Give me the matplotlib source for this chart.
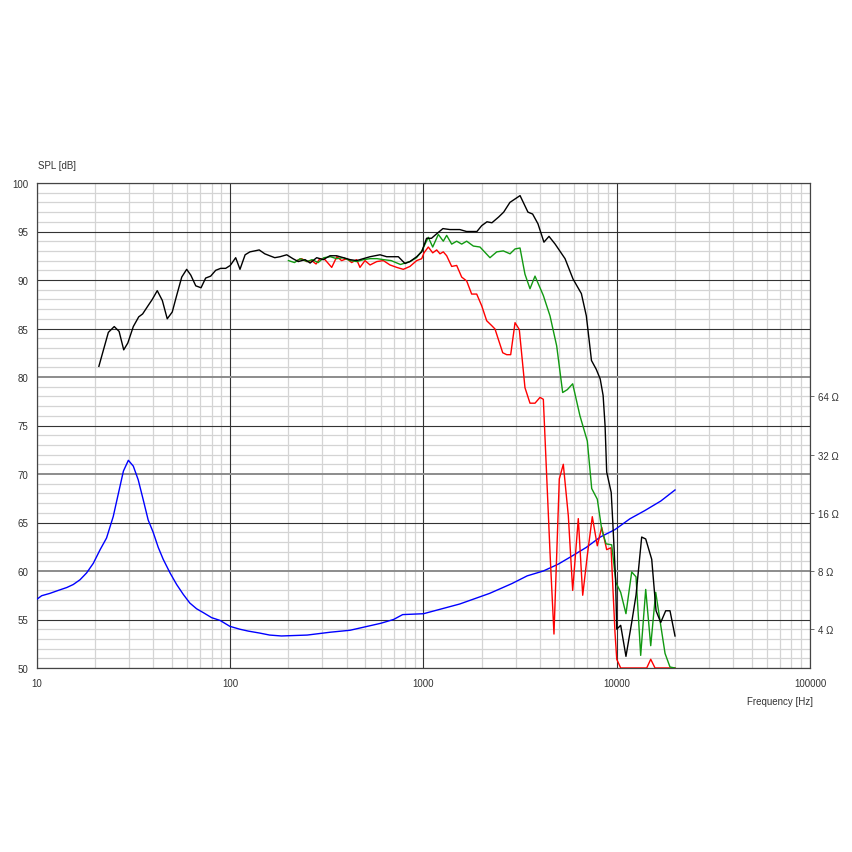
import numpy as np
import matplotlib.pyplot as plt
from matplotlib.ticker import FixedLocator, NullFormatter, NullLocator

plt.rcParams['font.family'] = ['Liberation Sans', 'DejaVu Sans']

# on-axis SPL (black), off-axis 30 deg (green), off-axis 60 deg (red) -- (Hz, dB)
spl_0 = [(20.9, 81.1), (23.4, 84.6), (25.1, 85.2), (26.6, 84.7), (28.1, 82.8), (29.5, 83.5),
         (31.5, 85.2), (33.6, 86.2), (35.2, 86.5), (37.7, 87.4), (39.5, 88.0), (41.9, 88.9),
         (44.5, 87.9), (47.2, 86.0), (50.1, 86.7), (52.8, 88.4), (56.1, 90.3), (59.5, 91.1),
         (62.5, 90.5), (66.3, 89.4), (70.6, 89.2), (74.6, 90.2), (79.2, 90.4), (84.1, 91.0),
         (89.2, 91.2), (94.7, 91.2), (100, 91.5), (106.7, 92.3), (112.3, 91.1), (119.4, 92.6),
         (126.4, 92.9), (133.8, 93.0), (141.2, 93.1), (150.9, 92.7), (160, 92.5), (170, 92.3),
         (181, 92.4), (196, 92.6), (211, 92.2), (225, 91.9), (244, 92.1), (259, 91.75),
         (280, 92.3), (303, 92.1), (328, 92.5), (355, 92.5), (385, 92.3), (417, 92.1),
         (451, 92.0), (488, 92.2), (529, 92.4), (596, 92.6), (645, 92.4), (741, 92.4),
         (802, 91.7), (851, 91.9), (922, 92.4), (979, 92.9), (1037, 94.3), (1100, 94.3),
         (1160, 94.7), (1260, 95.3), (1370, 95.2), (1540, 95.2), (1670, 95.0), (1890, 95.0),
         (2000, 95.6), (2130, 96.0), (2260, 95.9), (2450, 96.5), (2600, 97.0), (2800, 98.0),
         (3160, 98.7), (3470, 97.0), (3670, 96.8), (3910, 95.8), (4200, 93.9), (4460, 94.5),
         (4800, 93.7), (5400, 92.2), (5940, 90.1), (6560, 88.6), (6960, 86.3), (7400, 81.7),
         (7830, 80.8), (8210, 79.8), (8500, 78.1), (8700, 75.0), (8870, 70.2), (9360, 68.1),
         (9540, 65.0), (9860, 59.2), (10000, 54.0), (10480, 54.4), (11160, 51.2), (11950, 54.7),
         (12580, 57.5), (13460, 63.5), (14120, 63.3), (15170, 61.2), (15970, 55.9), (16890, 54.7),
         (17920, 55.9), (18860, 55.9), (20020, 53.3)]

spl_30 = [(200, 92.0), (215, 91.8), (230, 92.2), (250, 91.9), (265, 92.1), (285, 91.8),
          (305, 92.3), (330, 92.4), (355, 92.2), (385, 92.3), (417, 92.0), (451, 91.9),
          (490, 92.1), (530, 92.2), (575, 92.2), (620, 92.1), (680, 92.0), (760, 91.6),
          (850, 91.9), (920, 92.3), (980, 93.0), (1059, 94.4), (1116, 93.4), (1193, 94.7),
          (1266, 94.0), (1318, 94.6), (1399, 93.7), (1485, 94.0), (1576, 93.7), (1673, 94.0),
          (1811, 93.5), (1960, 93.4), (2208, 92.3), (2393, 92.9), (2588, 93.0), (2804, 92.7),
          (2976, 93.2), (3158, 93.3), (3350, 90.6), (3557, 89.1), (3776, 90.4), (4170, 88.4),
          (4515, 86.3), (4889, 83.2), (5250, 78.4), (5550, 78.7), (5915, 79.3), (6450, 76.0),
          (7041, 73.4), (7420, 68.5), (7932, 67.4), (8360, 64.3), (8800, 62.8), (9415, 62.7),
          (9910, 58.8), (10480, 57.8), (11160, 55.6), (11950, 59.9), (12580, 59.4),
          (13300, 51.3), (14120, 58.1), (14990, 52.3), (15910, 57.8), (16800, 54.7),
          (17780, 51.5), (18860, 50.1), (20020, 50.0)]

spl_60 = [(221, 92.0), (234, 92.2), (249, 91.9), (264, 92.0), (278, 91.65), (291, 92.2),
          (309, 92.1), (335, 91.3), (356, 92.4), (377, 92.0), (401, 92.2), (425, 91.8),
          (451, 92.1), (469, 91.3), (498, 92.0), (529, 91.55), (573, 91.9), (620, 92.0),
          (671, 91.55), (727, 91.3), (786, 91.1), (851, 91.4), (922, 92.0), (979, 92.2),
          (1006, 92.8), (1059, 93.4), (1116, 92.8), (1170, 93.1), (1217, 92.7), (1266, 92.9),
          (1318, 92.5), (1399, 91.4), (1485, 91.5), (1576, 90.3), (1673, 89.9), (1775, 88.55),
          (1885, 88.55), (2000, 87.35), (2123, 85.8), (2253, 85.3), (2344, 84.95), (2438, 83.9),
          (2570, 82.5), (2695, 82.3), (2826, 82.3), (2976, 85.6), (3131, 84.9), (3350, 78.9),
          (3557, 77.3), (3776, 77.3), (4008, 77.9), (4170, 77.7), (4515, 61.9), (4733, 53.5),
          (5044, 69.5), (5290, 71.0), (5615, 65.7), (5915, 58.0), (6324, 65.4), (6666, 57.5),
          (7041, 61.6), (7472, 65.6), (7932, 62.6), (8360, 64.5), (8870, 62.2), (9340, 62.4),
          (9790, 53.7), (10000, 50.9), (10480, 50.0), (14290, 50.0), (14990, 50.9),
          (15780, 50.0), (20020, 50.0)]

# impedance (Hz, ohm)
impedance = [(10, 5.72), (10.57, 5.96), (11.67, 6.13), (12.89, 6.35), (14.25, 6.57), (15.4, 6.81),
             (16.7, 7.21), (18.06, 7.82), (19.56, 8.77), (21.2, 10.3), (22.9, 11.85), (24.8, 15.3),
             (26.3, 19.9), (28.0, 26.3), (29.7, 29.9), (31.5, 27.9), (33.4, 23.7), (35.4, 18.8),
             (37.6, 14.7), (39.9, 12.7), (42.4, 10.6), (45.0, 9.19), (48.8, 7.82), (52.8, 6.81),
             (57.1, 6.06), (61.8, 5.46), (67.0, 5.10), (72.6, 4.87), (80.1, 4.59), (88.6, 4.44),
             (99.5, 4.14), (112, 4.0), (124, 3.91), (142, 3.82), (160, 3.73), (184, 3.69),
             (250, 3.73), (330, 3.86), (417, 3.95), (600, 4.29), (700, 4.49), (780, 4.76),
             (1000, 4.81), (1540, 5.40), (2200, 6.13), (2870, 6.89), (3440, 7.55), (4170, 8.0),
             (4980, 8.68), (5940, 9.63), (6960, 10.6), (8210, 11.98), (9790, 13.1), (11700, 14.9),
             (13930, 16.4), (16890, 18.4), (20020, 21.0)]

db_ticks = [50, 55, 60, 65, 70, 75, 80, 85, 90, 95, 100]
freq_ticks = [10, 100, 1000, 10000, 100000]
ohm_ticks = [4, 8, 16, 32, 64]

fig = plt.figure(figsize=(8.53, 8.53), dpi=100)
ax = fig.add_axes([37/853, 1-669/853, 773/853, 485/853])

ax.set_xscale('log')
ax.set_xlim(10, 100000)
ax.set_ylim(50, 100)

# grid: light minor lines, dark decades / 5 dB lines
minor_x = [m * 10**d for d in range(1, 5) for m in range(2, 10)]
for x in minor_x:
    ax.axvline(x, color='#d4d4d4', lw=0.9, zorder=0)
for y in range(51, 100):
    if y % 5:
        ax.axhline(y, color='#d4d4d4', lw=0.9, zorder=0)
for x in freq_ticks:
    ax.axvline(x, color='#333333', lw=0.8, zorder=1)
for y in db_ticks:
    if y in (60, 70, 80):
        ax.axhline(y, color='#8c8c8c', lw=1.4, zorder=1)
    else:
        ax.axhline(y, color='#333333', lw=0.8, zorder=1)

ax2 = ax.twinx()
ax2.set_yscale('log', base=2)
ax2.set_ylim(4 * 2 ** ((50 - 54) / 6), 4 * 2 ** ((100 - 54) / 6))

zf, zv = zip(*impedance)
ax2.plot(zf, zv, color='#0000ff', lw=1.0, zorder=3)
for data, col in [(spl_60, '#ff0000'), (spl_30, '#119911'), (spl_0, '#000000')]:
    f, s = zip(*data)
    ax2.plot(f, 4 * 2 ** ((np.array(s) - 54) / 6), color=col, lw=1.0, zorder=3)

ax.xaxis.set_major_locator(FixedLocator(freq_ticks))
ax.xaxis.set_minor_locator(NullLocator())
ax.xaxis.set_minor_formatter(NullFormatter())
ax.set_xticklabels([str(t) for t in freq_ticks])
ax.set_yticks(db_ticks)
ax.tick_params(axis='both', length=0, labelsize=7, labelcolor='#333333')
ax.tick_params(axis='x', pad=7)
ax.tick_params(axis='y', pad=6)

ax2.yaxis.set_major_locator(FixedLocator(ohm_ticks))
ax2.yaxis.set_minor_locator(NullLocator())
ax2.set_yticklabels([f'{t} \u03a9' for t in ohm_ticks])
ax2.tick_params(axis='y', length=3, width=0.6, color='#555555', pad=3, labelsize=7, labelcolor='#333333')

for a in (ax, ax2):
    for sp in a.spines.values():
        sp.set_color('#444444')
        sp.set_linewidth(0.8)

fig.text(38/853, 1-166/853, 'SPL [dB]', fontsize=7, color='#333333', ha='left', va='center')
fig.text(813/853, 1-702/853, 'Frequency [Hz]', fontsize=7, color='#333333', ha='right', va='center')

fig.savefig('out.png', dpi=100, facecolor='white')
